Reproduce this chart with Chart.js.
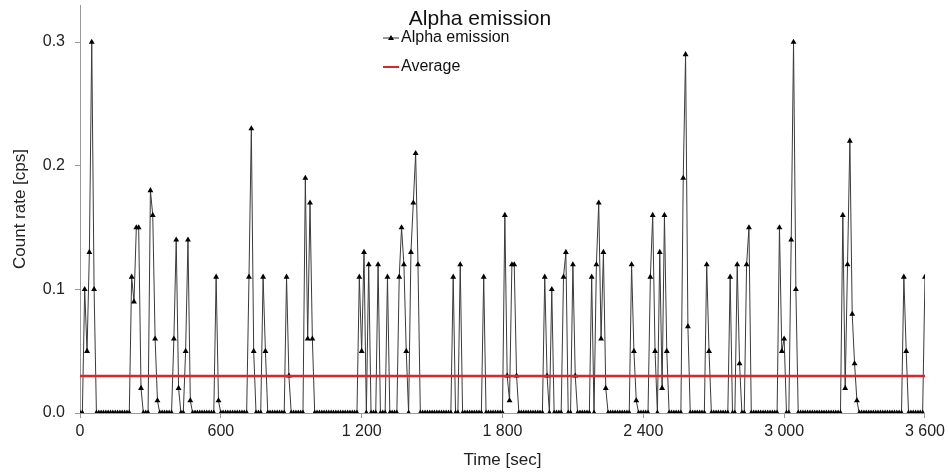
<!DOCTYPE html>
<html>
<head>
<meta charset="utf-8">
<script src="https://cdn.jsdelivr.net/npm/chart.js@4.4.1/dist/chart.umd.min.js"></script>
<style>
  html, body { margin: 0; padding: 0; background: #fff; }
</style>
</head>
<body>
<canvas id="alphaChart" width="949" height="474"></canvas>
<script>
// === data ===
const chartTitle = 'Alpha emission';
const seriesLabel = 'Alpha emission';
const averageLabel = 'Average';
const sampleStep = 10;          // seconds between readings
const averageRate = 0.03;       // cps
const xTicks = [0, 600, 1200, 1800, 2400, 3000, 3600];
const yTicks = [0, 0.1, 0.2, 0.3];

// count rate [cps], one reading every 10 s from 0 to 3600 s
const countRate = [
  0, 0, 0.10, 0.05, 0.13, 0.30, 0.10, 0, 0, 0, 0, 0, 0, 0, 0, 0, 0, 0, 0, 0,
  0, 0, 0.11, 0.09, 0.15, 0.15, 0.02, 0, 0, 0, 0.18, 0.16, 0.06, 0.01, 0, 0, 0, 0, 0, 0,
  0.06, 0.14, 0.02, 0, 0, 0.05, 0.14, 0.01, 0, 0, 0, 0, 0, 0, 0, 0, 0, 0, 0.11, 0.01,
  0, 0, 0, 0, 0, 0, 0, 0, 0, 0, 0, 0, 0.11, 0.23, 0.05, 0, 0, 0, 0.11, 0.05,
  0, 0, 0, 0, 0, 0, 0, 0, 0.11, 0.03, 0, 0, 0, 0, 0, 0, 0.19, 0.06, 0.17, 0.06,
  0, 0, 0, 0, 0, 0, 0, 0, 0, 0, 0, 0, 0, 0, 0, 0, 0, 0, 0, 0.11,
  0.05, 0.13, 0, 0.12, 0, 0, 0, 0.12, 0, 0, 0, 0.11, 0, 0, 0, 0, 0.11, 0.15, 0.12, 0.05,
  0, 0.13, 0.17, 0.21, 0.12, 0, 0, 0, 0, 0, 0, 0, 0, 0, 0, 0, 0, 0, 0, 0.11,
  0, 0, 0.12, 0, 0, 0, 0, 0, 0, 0, 0, 0, 0.11, 0, 0, 0, 0, 0, 0, 0,
  0, 0.16, 0.03, 0.01, 0.12, 0.12, 0.03, 0, 0, 0, 0, 0, 0, 0, 0, 0, 0, 0, 0.11, 0.03,
  0, 0.10, 0, 0, 0, 0, 0.11, 0.13, 0, 0, 0.12, 0.03, 0, 0, 0, 0, 0, 0, 0.11, 0,
  0.12, 0.17, 0.06, 0.13, 0.02, 0, 0, 0, 0, 0, 0, 0, 0, 0, 0, 0.12, 0.05, 0.01, 0, 0,
  0, 0, 0, 0.11, 0.16, 0.05, 0, 0.13, 0.02, 0.16, 0.05, 0, 0, 0, 0, 0, 0, 0.19, 0.29, 0.07,
  0, 0, 0, 0, 0, 0, 0, 0.12, 0.05, 0, 0, 0, 0, 0, 0, 0, 0, 0.11, 0, 0,
  0.12, 0.04, 0, 0, 0.12, 0.15, 0, 0, 0, 0, 0, 0, 0, 0, 0, 0, 0, 0, 0.15, 0.05,
  0.06, 0, 0, 0.14, 0.30, 0.10, 0, 0, 0, 0, 0, 0, 0, 0, 0, 0, 0, 0, 0, 0,
  0, 0, 0, 0, 0, 0.16, 0.02, 0.12, 0.22, 0.08, 0.04, 0.01, 0, 0, 0, 0, 0, 0, 0, 0,
  0, 0, 0, 0, 0, 0, 0, 0, 0, 0, 0, 0.11, 0.05, 0, 0, 0, 0, 0, 0, 0,
  0.11
];

const FONT = '"Liberation Sans", Arial, sans-serif';
const RED = '#d9262a';

// title + legend sit inside the plot, like the original
const overlay = {
  id: 'overlay',
  afterDraw(chart) {
    const c = chart.ctx;
    c.save();
    c.fillStyle = '#111';
    c.textBaseline = 'middle';
    c.font = '21px ' + FONT;
    c.textAlign = 'center';
    c.fillText(chartTitle, 480, 19);

    c.font = '16px ' + FONT;
    c.textAlign = 'left';
    // series entry
    c.strokeStyle = '#333'; c.lineWidth = 1;
    c.beginPath(); c.moveTo(383, 38); c.lineTo(399, 38); c.stroke();
    c.fillStyle = '#000';
    c.beginPath(); c.moveTo(391, 35); c.lineTo(394, 40); c.lineTo(388, 40); c.closePath(); c.fill();
    c.fillStyle = '#111';
    c.fillText(seriesLabel, 401, 38);
    // average entry
    c.strokeStyle = RED; c.lineWidth = 2;
    c.beginPath(); c.moveTo(383, 67); c.lineTo(399, 67); c.stroke();
    c.fillText(averageLabel, 401, 67);
    c.restore();
  }
};

const ctx = document.getElementById('alphaChart').getContext('2d');
new Chart(ctx, {
  type: 'line',
  data: {
    datasets: [
      {
        label: averageLabel,
        data: [{x: xTicks[0], y: averageRate}, {x: xTicks[xTicks.length - 1], y: averageRate}],
        borderColor: RED,
        borderWidth: 2.5,
        pointRadius: 0,
        order: 0
      },
      {
        label: seriesLabel,
        data: countRate.map((v, i) => ({x: i * sampleStep, y: v})),
        borderColor: '#3a3a3a',
        borderWidth: 1,
        pointStyle: 'triangle',
        pointRadius: 3.4,
        pointBackgroundColor: '#000',
        pointBorderColor: '#000',
        pointBorderWidth: 0,
        tension: 0,
        order: 1
      }
    ]
  },
  options: {
    responsive: false,
    animation: false,
    layout: { padding: { top: 5, right: 23, left: 0, bottom: 0 } },
    plugins: { legend: { display: false }, title: { display: false }, tooltip: { enabled: false } },
    scales: {
      x: {
        type: 'linear',
        min: xTicks[0],
        max: xTicks[xTicks.length - 1],
        afterBuildTicks: s => { s.ticks = xTicks.map(v => ({value: v})); },
        afterFit: s => { s.height = 61; },
        ticks: {
          font: { family: FONT, size: 16 },
          color: '#222',
          padding: 4,
          maxRotation: 0,
          callback: v => String(v).replace(/\B(?=(\d{3})+(?!\d))/g, ' ')
        },
        grid: { drawOnChartArea: false, tickLength: 5, color: '#999' },
        border: { color: '#999' },
        title: { display: true, text: 'Time [sec]', font: { family: FONT, size: 17 }, color: '#222', padding: { top: 0, bottom: 3 } }
      },
      y: {
        min: 0,
        max: 0.33,
        afterBuildTicks: s => { s.ticks = yTicks.map(v => ({value: v})); },
        afterFit: s => { s.width = 80; s.paddingTop = 0; s.paddingBottom = 0; },
        ticks: {
          font: { family: FONT, size: 16 },
          color: '#222',
          padding: 10,
          callback: v => v.toFixed(1)
        },
        grid: { drawOnChartArea: false, tickLength: 5, color: '#999' },
        border: { color: '#999' },
        title: { display: true, text: 'Count rate [cps]', font: { family: FONT, size: 17 }, color: '#222', padding: { top: 10, bottom: 0 } }
      }
    }
  },
  plugins: [overlay]
});
</script>
</body>
</html>
